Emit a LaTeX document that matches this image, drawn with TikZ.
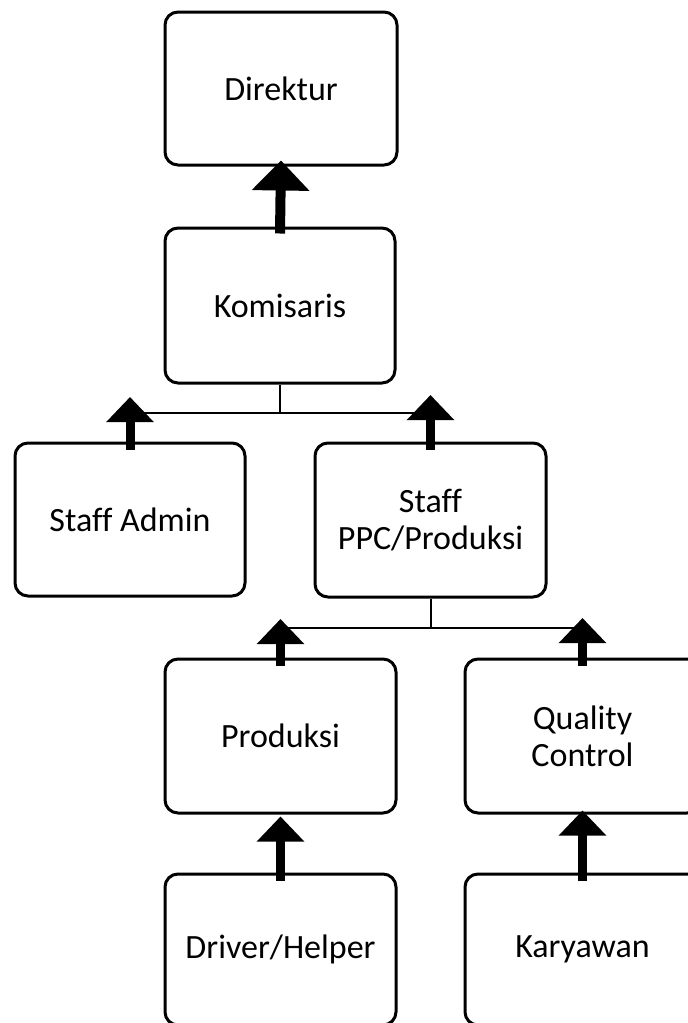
\documentclass[tikz,border=0pt]{standalone}
\usepackage{fontspec}
\setmainfont[Ligatures=NoCommon]{Carlito}
\usetikzlibrary{arrows.meta}
\tikzset{
  orgbox/.style={draw, line width=3pt, rounded corners=13pt, align=center,
    inner sep=0pt, font=\fontsize{34}{37}\selectfont},
  link/.style={line width=2pt},
  uparrow/.style={line width=9pt, -{Triangle[width=46pt,length=25pt]}},
  bigup/.style={line width=10pt, -{Triangle[width=56pt,length=30pt]}},
}
\begin{document}
\begin{tikzpicture}[x=1pt,y=-1pt]
\useasboundingbox (0,0) rectangle (688,1023);
\clip (0,0) rectangle (688,1023);

% organisation boxes
\node[orgbox, minimum width=232pt, minimum height=153pt] (dir)  at (281,88.5)   {Direktur};
\node[orgbox, minimum width=230pt, minimum height=155pt] (kom)  at (280,305.5)  {Komisaris};
\node[orgbox, minimum width=230pt, minimum height=153pt] (adm)  at (130,519.5)  {Staff Admin};
\node[orgbox, minimum width=231pt, minimum height=154pt] (ppc)  at (430.5,520)  {Staff\\PPC/Produksi};
\node[orgbox, minimum width=231pt, minimum height=154pt] (prod) at (280.5,736)  {Produksi};
\node[orgbox, minimum width=235pt, minimum height=154pt] (qc)   at (582.5,736)  {Quality\\Control};
\node[orgbox, minimum width=231pt, minimum height=151pt] (drv)  at (280.5,949.5) {Driver/Helper};
\node[orgbox, minimum width=235pt, minimum height=151pt] (kar)  at (582.5,949.5) {Karyawan};

% Komisaris reports to Direktur
\draw[bigup] ([yshift=-7pt]kom.north) -- ([yshift=6pt]dir.south);

% branch below Komisaris
\coordinate (bar1) at (0,413);
\draw[link] (kom.south) -- (kom.south |- bar1);
\draw[link] (adm.north |- bar1) -- (ppc.north |- bar1);
\draw[uparrow] ([yshift=-8pt]adm.north) -- ([yshift=16pt]adm.north |- bar1);
\draw[uparrow] ([yshift=-8pt]ppc.north) -- ([yshift=18pt]ppc.north |- bar1);

% branch below Staff PPC/Produksi
\coordinate (bar2) at (0,628);
\draw[link] (ppc.south) -- (ppc.south |- bar2);
\draw[link] (prod.north |- bar2) -- (qc.north |- bar2);
\draw[uparrow] ([yshift=-8pt]prod.north) -- ([yshift=9pt]prod.north |- bar2);
\draw[uparrow] ([yshift=-8pt]qc.north) -- ([yshift=10pt]qc.north |- bar2);

% bottom level
\draw[uparrow] ([yshift=-8pt]drv.north) -- ([yshift=-2pt]prod.south);
\draw[uparrow] ([yshift=-8pt]kar.north) -- ([yshift=4pt]qc.south);
\end{tikzpicture}
\end{document}
